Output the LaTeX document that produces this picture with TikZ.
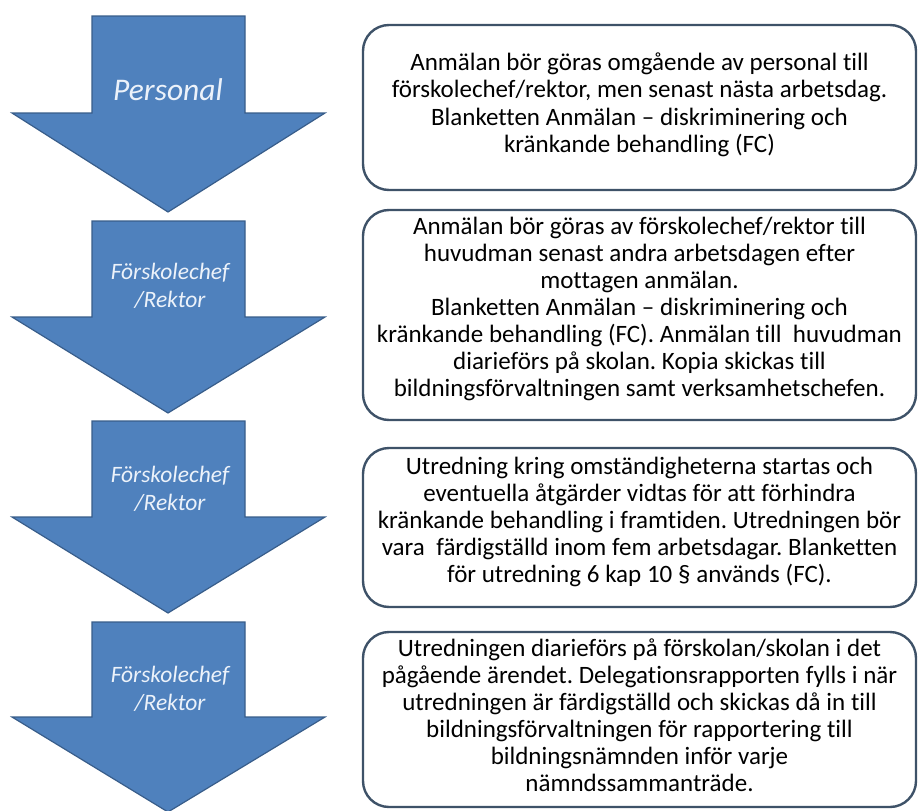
\documentclass[tikz,border=0pt]{standalone}
\usepackage{fontspec}
\setmainfont{Carlito}[Ligatures=NoCommon]
\usepackage{tikz}

\definecolor{arrowblue}{RGB}{79,129,189}
\definecolor{arrowedge}{RGB}{56,93,138}
\definecolor{boxedge}{RGB}{62,82,104}
\definecolor{paleblue}{RGB}{236,242,250}

\begin{document}
\frenchspacing
\begin{tikzpicture}[x=1pt,y=-1pt,
  blockarrow/.style={fill=arrowblue,draw=arrowedge,line width=1.2pt,line join=miter},
  who/.style={text=paleblue,font=\fontsize{23.5}{28}\selectfont\itshape,align=center,inner sep=0pt},
  infobox/.style={draw=boxedge,line width=2.4pt,rounded corners=26pt,fill=white,minimum width=553pt},
  infotext/.style={text width=553pt,align=center,inner sep=0pt,font=\fontsize{25}{27}\selectfont,
    execute at begin node={\spaceskip=0.23em\relax}}]
  \useasboundingbox (0,0) rectangle (919,811);

  % the four block arrows on the left
  \draw[blockarrow] (92,16) -- (245,16) -- (245,113) -- (325,113) -- (168,212) -- (12,113) -- (92,113) -- cycle;
  \draw[blockarrow] (92,221) -- (245,221) -- (245,317) -- (325,317) -- (168,413) -- (12,317) -- (92,317) -- cycle;
  \draw[blockarrow] (92,421) -- (245,421) -- (245,517) -- (325,517) -- (168,613) -- (12,517) -- (92,517) -- cycle;
  \draw[blockarrow] (92,622) -- (245,622) -- (245,717) -- (325,717) -- (168,812) -- (12,717) -- (92,717) -- cycle;

  \node[who,font=\fontsize{31.5}{36}\selectfont\itshape] (who0) at (168,90) {Personal};
  \node[who] (who1) at (170,286) {Förskolechef\\/Rektor};
  \node[who] (who2) at (170,489) {Förskolechef\\/Rektor};
  \node[who] (who3) at (170,689) {Förskolechef\\/Rektor};

  % the text boxes on the right
  \node[infobox,minimum height=165pt] (box0) at (639.5,107.5) {};
  \node[infobox,minimum height=210pt] (box1) at (639.5,315) {};
  \node[infobox,minimum height=159pt] (box2) at (639.5,527.5) {};
  \node[infobox,minimum height=175pt] (box3) at (639.5,719.5) {};

  \node[infotext,font=\fontsize{25}{27.5}\selectfont] (txt0) at (639.5,105)
    {Anmälan bör göras omgående av personal till\\
     förskolechef/rektor, men senast nästa arbetsdag.\\
     Blanketten Anmälan – diskriminering och\\
     kränkande behandling (FC)};
  \node[infotext] (txt1) at (639.5,309)
    {Anmälan bör göras av förskolechef/rektor till\\
     huvudman senast andra arbetsdagen efter\\
     mottagen anmälan.\\
     Blanketten Anmälan – diskriminering och\\
     kränkande behandling (FC). Anmälan till~ huvudman\\
     diarieförs på skolan. Kopia skickas till\\
     bildningsförvaltningen samt verksamhetschefen.};
  \node[infotext] (txt2) at (639.5,521.5)
    {Utredning kring omständigheterna startas och\\
     eventuella åtgärder vidtas för att förhindra\\
     kränkande behandling i framtiden. Utredningen bör\\
     vara~ färdigställd inom fem arbetsdagar. Blanketten\\
     för utredning 6 kap 10 § används (FC).};
  \node[infotext] (txt3) at (639.5,715.5)
    {Utredningen diarieförs på förskolan/skolan i det\\
     pågående ärendet. Delegationsrapporten fylls i när\\
     utredningen är färdigställd och skickas då in till\\
     bildningsförvaltningen för rapportering till\\
     bildningsnämnden inför varje\\
     nämndssammanträde.};
\end{tikzpicture}
\end{document}
